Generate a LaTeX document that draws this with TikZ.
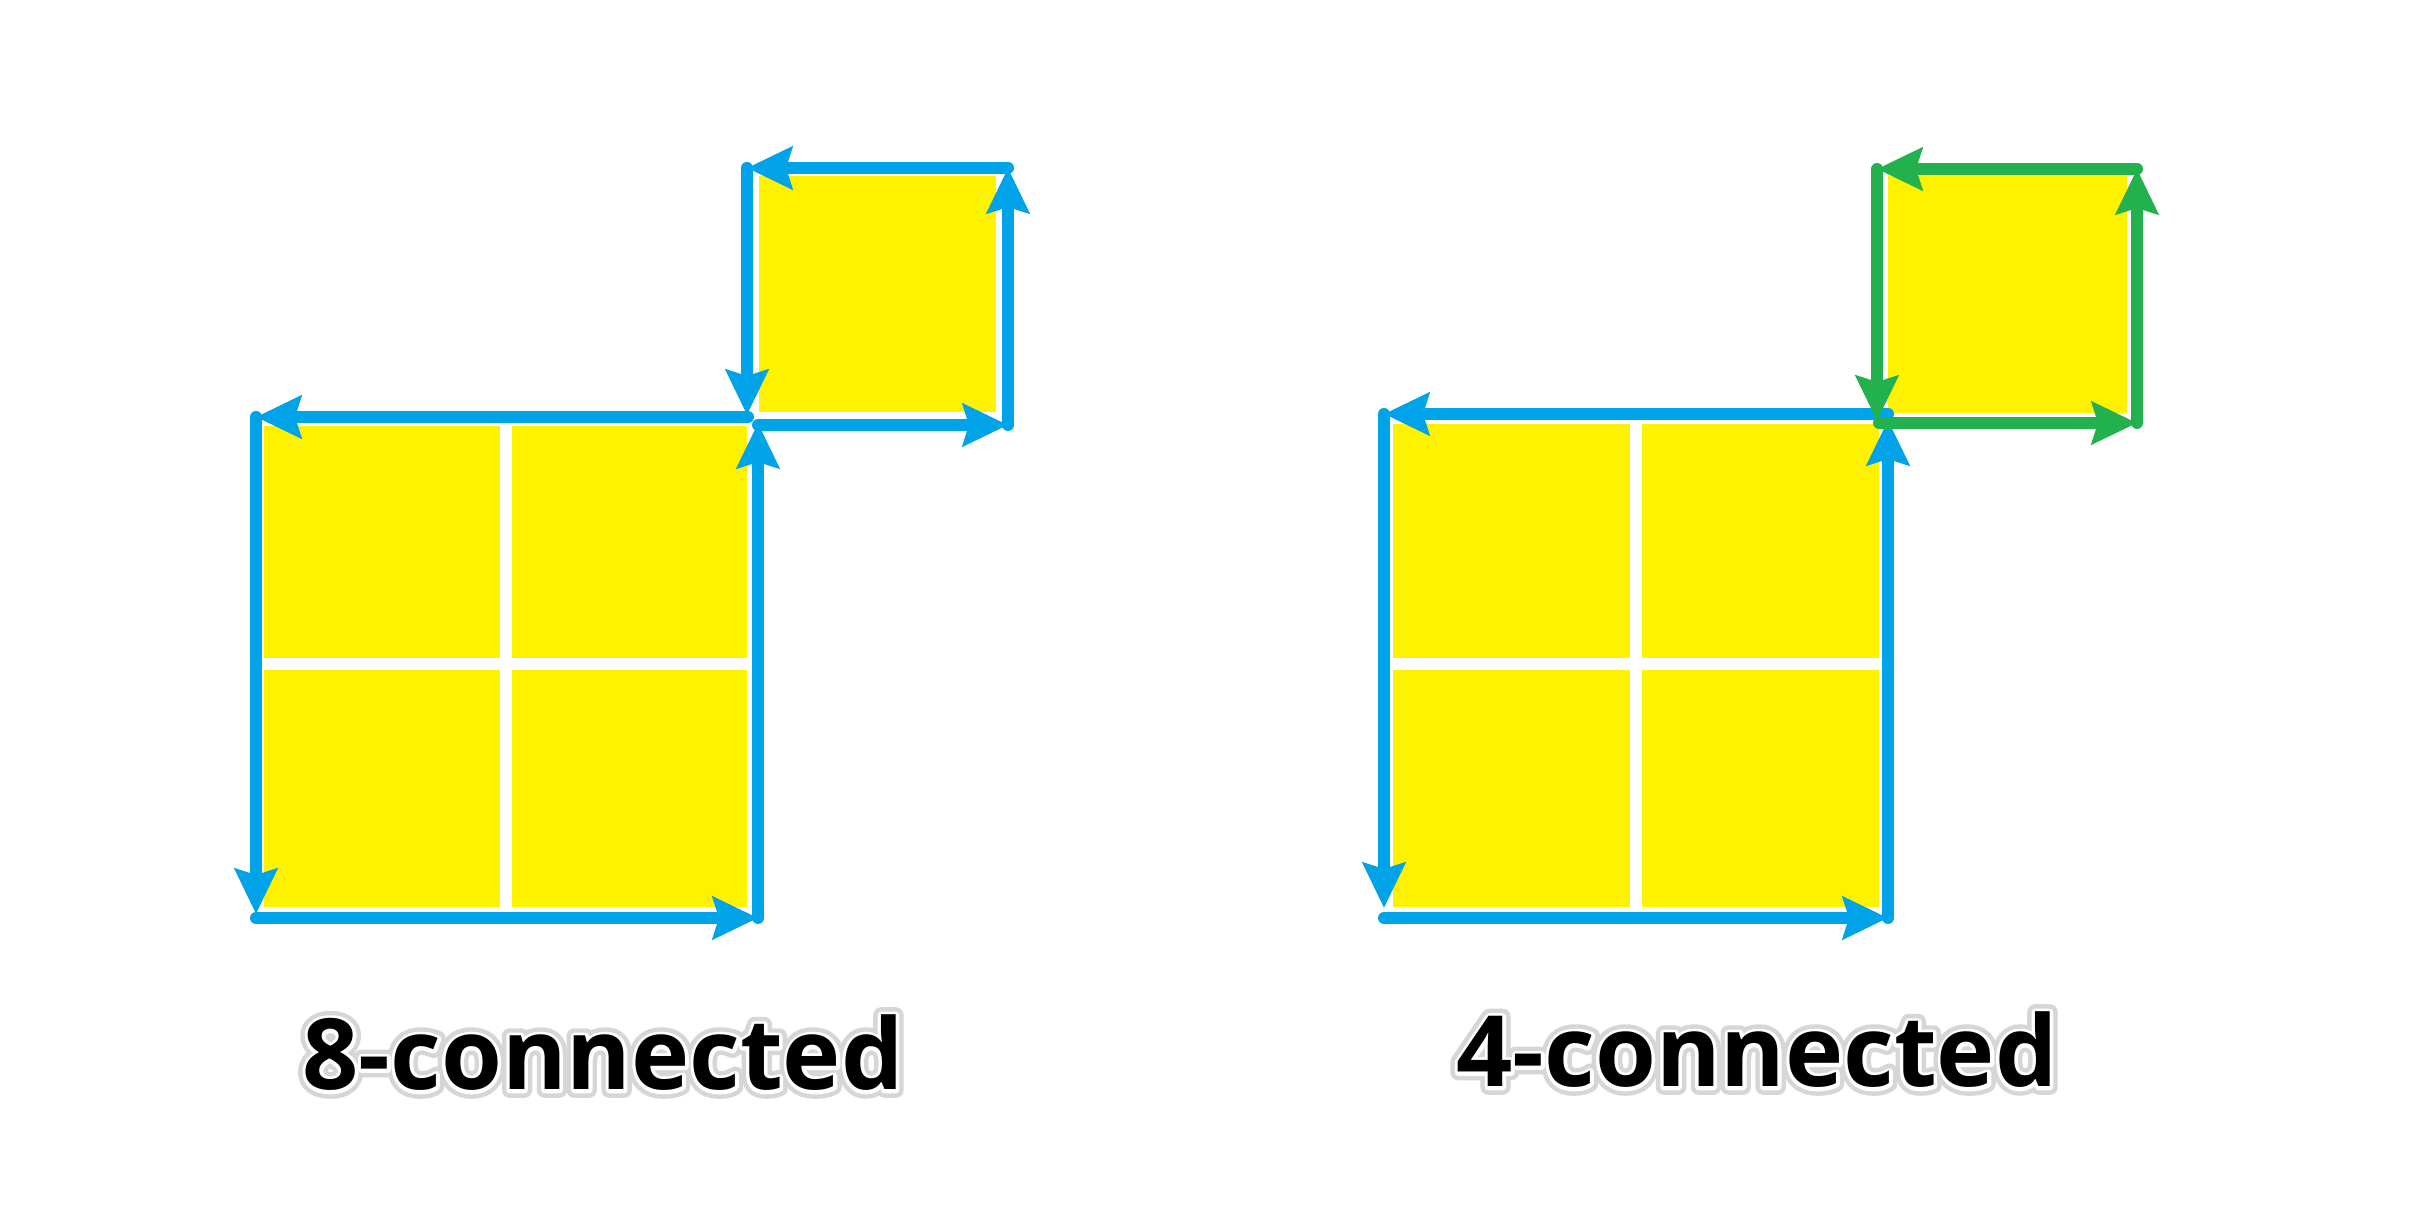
\documentclass[tikz,border=0pt]{standalone}
\usepackage{fontspec}
\setmainfont{Open Sans}
\usetikzlibrary{arrows.meta}
\definecolor{pblue}{RGB}{0,162,232}
\definecolor{pgreen}{RGB}{34,177,76}
\definecolor{pyellow}{RGB}{255,242,0}
\begin{document}
\begin{tikzpicture}[x=0.01cm,y=-0.01cm,
  cellfill/.style={fill=pyellow},
  edge/.style={line width=0.12cm, line cap=round,
    -{Stealth[length=0.45cm,width=0.42cm,inset=0.06cm]}},
  edgeblue/.style={edge, draw=pblue, color=pblue},
  edgegreen/.style={edge, draw=pgreen, color=pgreen},
  lbl/.style={font=\bfseries\fontsize{28}{34}\selectfont, inner sep=0pt, line join=round},
  glow/.style={lbl, font=\bfseries\fontsize{28}{34}\selectfont\addfontfeature{FakeBold=16}, text=black!16},
  halo/.style={lbl, font=\bfseries\fontsize{28}{34}\selectfont\addfontfeature{FakeBold=7}, text=white}]
\fill[white] (0,0) rectangle (2411,1222);
% ---------- labels with soft glow (drawn first) ----------
\node[glow] (glow8) at (603,1053) {8-connected};
\node[glow] (glow4) at (1757,1050) {4-connected};
\node[halo] (halo8) at (603,1053) {8-connected};
\node[halo] (halo4) at (1757,1050) {4-connected};
\node[lbl, text=black] (lab8) at (603,1053) {8-connected};
\node[lbl, text=black] (lab4) at (1757,1050) {4-connected};
% ---------- left figure: cells ----------
\fill[cellfill] (264,426) rectangle (500,658);
\fill[cellfill] (512,426) rectangle (747,658);
\fill[cellfill] (264,670) rectangle (500,907);
\fill[cellfill] (512,670) rectangle (747,907);
\fill[cellfill] (759,176) rectangle (996,412);
% ---------- right figure: cells ----------
\fill[cellfill] (1393,424) rectangle (1630,658);
\fill[cellfill] (1642,424) rectangle (1879,658);
\fill[cellfill] (1393,670) rectangle (1630,907);
\fill[cellfill] (1642,670) rectangle (1879,907);
\fill[cellfill] (1888,176) rectangle (2127,413);
% ---------- left figure: contour ----------
\coordinate (LbTs) at (748,417);
\coordinate (LbTL) at (256,417);
\coordinate (LbBLt) at (256,914);
\coordinate (LbBL) at (256,918);
\coordinate (LbBR) at (758,918);
\coordinate (LbTR) at (758,423);
\coordinate (LsBL) at (758,425);
\coordinate (LsBR) at (1008,425);
\coordinate (LsTR) at (1008,168);
\coordinate (LsTL) at (747,168);
\coordinate (LsBLt) at (747,415);
\draw[edgeblue] (LbTs) -- (LbTL);
\draw[edgeblue] (LbTL) -- (LbBLt);
\draw[edgeblue] (LbBL) -- (LbBR);
\draw[edgeblue] (LbBR) -- (LbTR);
\draw[edgeblue] (LsBL) -- (LsBR);
\draw[edgeblue] (LsBR) -- (LsTR);
\draw[edgeblue] (LsTR) -- (LsTL);
\draw[edgeblue] (LsTL) -- (LsBLt);
% ---------- right figure: contours ----------
\coordinate (RbTs) at (1888,414);
\coordinate (RbTL) at (1384,414);
\coordinate (RbBLt) at (1384,908);
\coordinate (RbBL) at (1384,918);
\coordinate (RbBR) at (1888,918);
\coordinate (RbTR) at (1888,420);
\coordinate (RsBL) at (1879,423);
\coordinate (RsBR) at (2137,423);
\coordinate (RsTR) at (2137,169);
\coordinate (RsTL) at (1877,169);
\coordinate (RsBLt) at (1877,421);
\draw[edgeblue] (RbTs) -- (RbTL);
\draw[edgeblue] (RbTL) -- (RbBLt);
\draw[edgeblue] (RbBL) -- (RbBR);
\draw[edgeblue] (RbBR) -- (RbTR);
\draw[edgegreen] (RsBL) -- (RsBR);
\draw[edgegreen] (RsBR) -- (RsTR);
\draw[edgegreen] (RsTR) -- (RsTL);
\draw[edgegreen] (RsTL) -- (RsBLt);
\end{tikzpicture}
\end{document}
